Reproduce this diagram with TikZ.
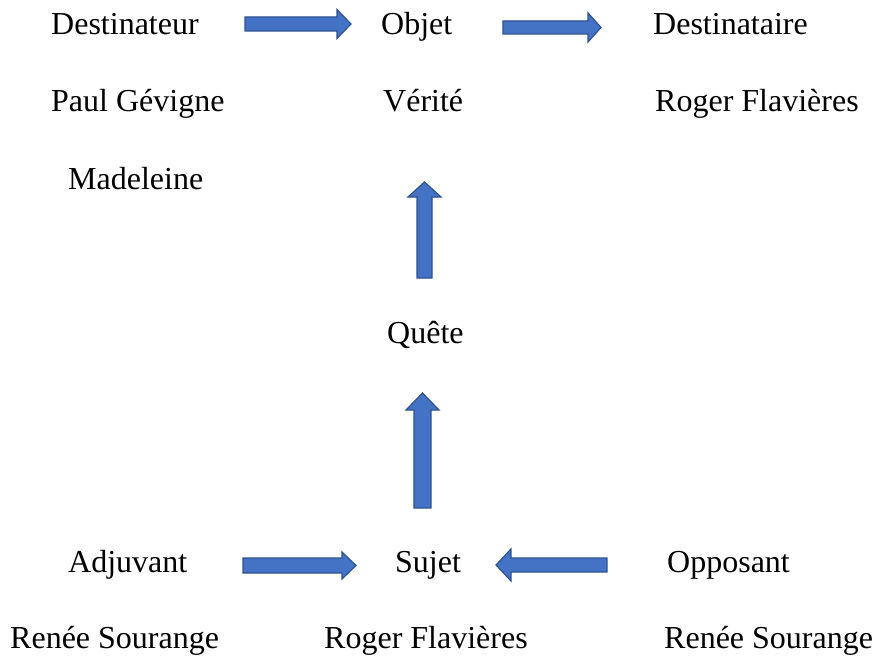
\documentclass[tikz,border=0pt]{standalone}
\usepackage{fontspec}
\setmainfont{Liberation Serif}
\definecolor{arrfill}{HTML}{4472C4}
\definecolor{arrline}{HTML}{2F528F}
\tikzset{
  lbl/.style={anchor=base west, inner sep=0pt, font=\fontsize{32}{38}\selectfont},
  blockarr/.style={fill=arrfill, draw=arrline, line width=1.2pt, line join=miter}
}
\begin{document}
\begin{tikzpicture}[x=1pt,y=-1pt]
\useasboundingbox (0,0) rectangle (874,655);
% labels
\node[lbl] (dest) at (51,35) {Destinateur};
\node[lbl] (obj) at (381,35) {Objet};
\node[lbl] (dsta) at (653,35) {Destinataire};
\node[lbl] (paul) at (51,112) {Paul Gévigne};
\node[lbl] (ver) at (383,112) {Vérité};
\node[lbl] (rog1) at (655,112) {Roger Flavières};
\node[lbl] (mad) at (68,189) {Madeleine};
\node[lbl] (que) at (387,343) {Quête};
\node[lbl] (adj) at (68,572) {Adjuvant};
\node[lbl] (suj) at (395,572) {Sujet};
\node[lbl] (opp) at (667,572) {Opposant};
\node[lbl] (ren1) at (10,648) {Renée Sourange};
\node[lbl] (rog2) at (324,648) {Roger Flavières};
\node[lbl] (ren2) at (664,648) {Renée Sourange};
% block arrows
% top-left: Destinateur -> Objet
\draw[blockarr] (245,17) -- (337,17) -- (337,9.5) -- (351,24) -- (337,38.5) -- (337,31) -- (245,31) -- cycle;
% top-right: Objet -> Destinataire
\draw[blockarr] (503,21) -- (588,21) -- (588,13) -- (601,27.5) -- (588,42) -- (588,34) -- (503,34) -- cycle;
% vertical upper: Quete -> Verite
\draw[blockarr] (417,278) -- (417,197) -- (408,197) -- (424.5,182) -- (441,197) -- (432,197) -- (432,278) -- cycle;
% vertical lower: Sujet -> Quete
\draw[blockarr] (414,508) -- (414,410) -- (406,410) -- (422.5,393) -- (439,410) -- (431,410) -- (431,508) -- cycle;
% bottom-left: Adjuvant -> Sujet
\draw[blockarr] (243,558) -- (342,558) -- (342,552) -- (356,565.5) -- (342,579) -- (342,573) -- (243,573) -- cycle;
% bottom-right: Opposant -> Sujet
\draw[blockarr] (607,558) -- (511,558) -- (511,549) -- (496,565) -- (511,581) -- (511,572) -- (607,572) -- cycle;
\end{tikzpicture}
\end{document}
